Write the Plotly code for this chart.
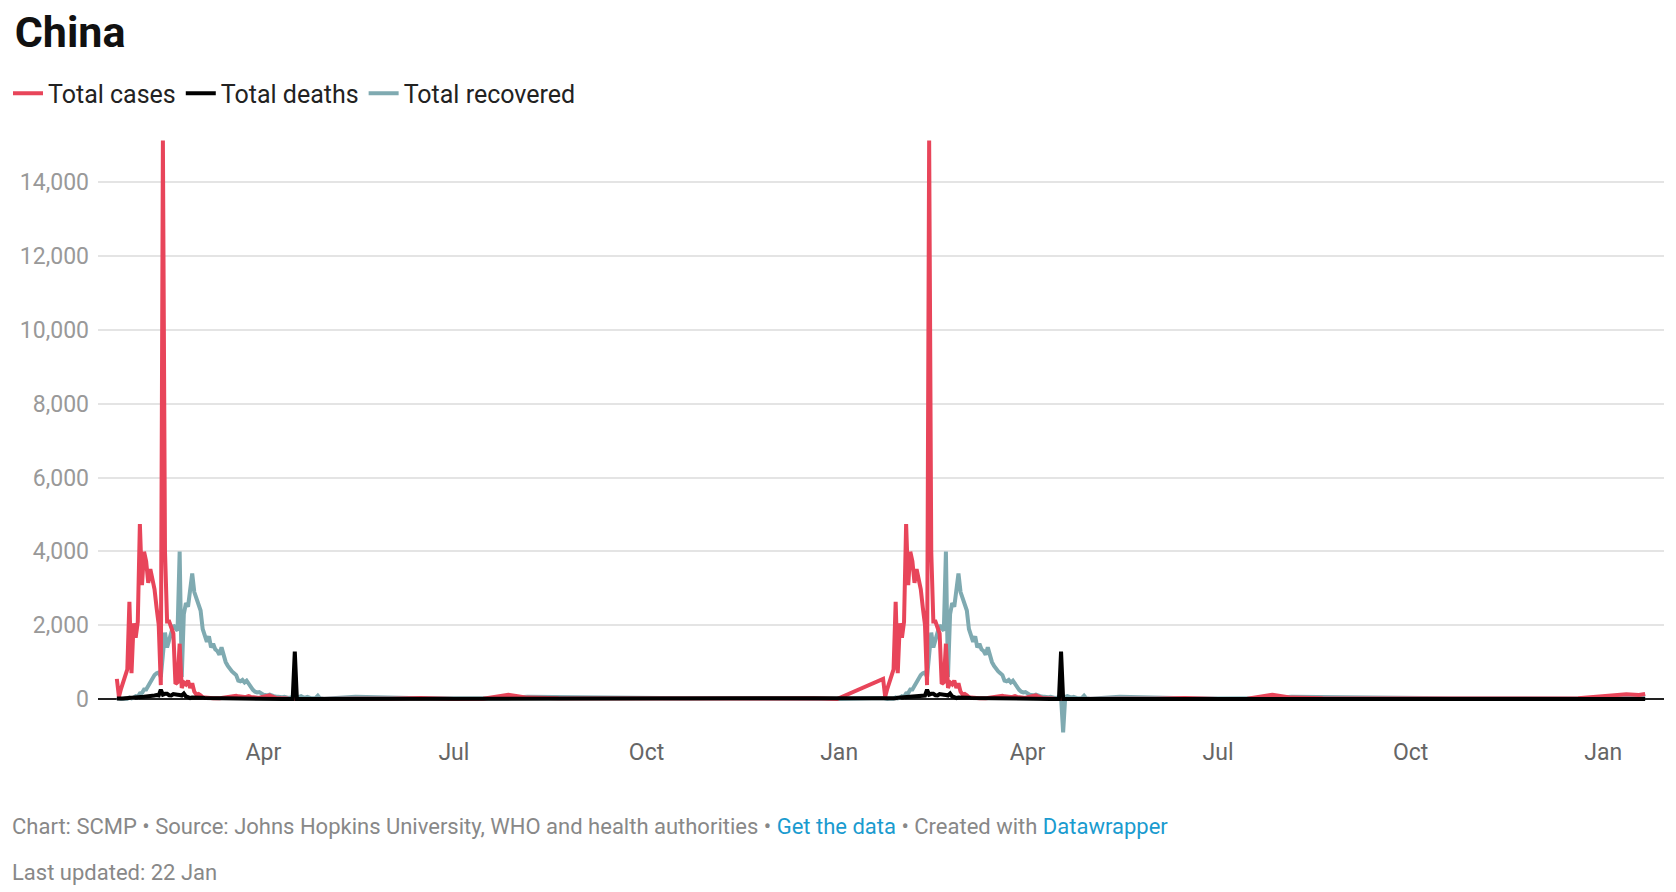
import pandas as pd
import plotly.graph_objects as go

# Daily values, 22 Jan - 30 Apr (repeated pattern appears in both years)
window_cases = [548, 60, 277, 486, 669, 802, 2632, 700, 2054, 1661, 2089, 4739, 3086, 3991, 3733, 3147, 3523, 3300, 2973, 2467,
                2015, 380, 15133, 4000, 2100, 2100, 1921, 1777, 408, 458, 1500, 300, 450, 400, 500, 300, 430, 200, 120, 140,
                100, 50, 40, 30, 25, 20, 20, 25, 15, 20, 30, 40, 45, 50, 60, 70, 80, 90, 75, 60, 50, 55, 65, 80, 60, 50,
                40, 35, 30, 50, 60, 80, 90, 100, 70, 40, 30, 20, 25, 30, 20, 15, 10, 12, 10, 8, 5, 6, 10, 8, 5, 4, 3, 2, 3, 4, 3, 5, 2, 3]
window_deaths = [17, 8, 16, 15, 24, 26, 26, 38, 43, 46, 45, 57, 64, 65, 73, 73, 86, 89, 97, 108,
                 97, 254, 121, 143, 142, 105, 98, 136, 114, 118, 109, 97, 150, 71, 52, 29, 44, 47, 35, 42,
                 31, 38, 31, 30, 28, 27, 22, 17, 22, 11, 7, 13, 10, 14, 13, 11, 8, 3, 7, 6, 9, 7, 4, 6, 5, 3,
                 5, 4, 4, 6, 5, 3, 2, 3, 2, 2, 1, 2, 1, 0, 1, 1, 0, 0, 1, 1290, 0, 0, 0, 0, 0, 0, 0, 0, 0, 0, 0, 0, 0, 0]
window_recovered = [28, 6, 3, 11, 2, 9, 43, 21, 36, 79, 62, 157, 162, 261, 262, 365, 467, 600, 650, 700,
                    720, 600, 1150, 1800, 1400, 1650, 1800, 2000, 1900, 1850, 4000, 600, 2300, 2600, 2500, 2900, 3400, 2900, 2750, 2600,
                    2400, 1900, 1700, 1550, 1700, 1400, 1500, 1350, 1300, 1200, 1400, 1150, 1000, 900, 800, 750, 700, 650, 500, 480,
                    520, 450, 500, 400, 300, 250, 200, 180, 190, 150, 120, 110, 100, 120, 90, 80, 70, 60, 70, 50, 60, 40,
                    30, 40, 35, 50, 40, 60, 80, 50, 40, 60, 30, 20, 25, 30, 90, 20, 15, 10]
# Differences in the 2021 copy
recovered_2021_apr17 = -900

# Sparse tails, May - Dec
tail_days = ["05-15", "06-01", "06-15", "07-01", "07-15", "07-27", "08-05", "08-20", "09-10", "10-01", "10-20",
             "11-10", "12-01", "12-20"]
tail_cases = [10, 8, 30, 5, 10, 120, 40, 20, 15, 20, 25, 20, 15, 25]
tail_deaths = [0, 0, 0, 0, 0, 1, 0, 0, 0, 0, 0, 0, 0, 0]
tail_recovered = [60, 30, 20, 15, 10, 20, 60, 50, 30, 25, 20, 25, 20, 15]
end_days = ["2022-01-05", "2022-01-12", "2022-01-18", "2022-01-21"]
end_cases = [80, 130, 110, 140]
end_deaths = [0, 0, 0, 0]
end_recovered = [40, 60, 70, 80]

def year_series(year, win, tail, rec2021=False):
    d = list(pd.date_range(f"{year}-01-22", periods=len(win), freq="D"))
    v = list(win)
    if rec2021:
        v[86] = recovered_2021_apr17
    d += [pd.Timestamp(f"{year}-{t}") for t in tail_days]
    v += list(tail)
    return d, v

def full(win, tail, end, rec2021=False):
    d1, v1 = year_series(2020, win, tail)
    d2, v2 = year_series(2021, win, tail, rec2021)
    d = d1 + [pd.Timestamp("2020-12-31")] + d2 + [pd.Timestamp(x) for x in end_days]
    v = v1 + [0] + v2 + list(end)
    return d, v

fig = go.Figure()
series = [
    ("Total cases", window_cases, tail_cases, end_cases, "#e8455a", False),
    ("Total deaths", window_deaths, tail_deaths, end_deaths, "#000000", False),
    ("Total recovered", window_recovered, tail_recovered, end_recovered, "#7faab1", True),
]
order = [2, 0, 1]
for i in order:
    name, w, t, e, c, r = series[i]
    d, v = full(w, t, e, r)
    fig.add_trace(go.Scatter(x=d, y=v, name=name, mode="lines", line=dict(color=c, width=4), legendrank=i))

fig.update_layout(
    width=1676, height=892, plot_bgcolor="white", paper_bgcolor="white",
    margin=dict(l=86, r=20, t=130, b=164),
    font=dict(family="Roboto", color="#888"),
    showlegend=True,
    legend=dict(orientation="h", x=0.0, xref="container", xanchor="left", y=0.93, yref="container", yanchor="top",
                font=dict(size=25, color="#222"), traceorder="normal", tracegroupgap=0),
    title=dict(text="<b>China</b>", x=0.004, xref="container", xanchor="left", y=0.99, yanchor="top",
               font=dict(size=43, color="#111", family="Roboto")),
)
fig.update_xaxes(range=["2020-01-13", "2022-01-30"], tickvals=["2020-04-01", "2020-07-01", "2020-10-01", "2021-01-01",
                 "2021-04-01", "2021-07-01", "2021-10-01", "2022-01-01"],
                 ticktext=["Apr", "Jul", "Oct", "Jan", "Apr", "Jul", "Oct", "Jan"],
                 showgrid=False, zeroline=False, showline=False, tickfont=dict(size=23, color="#666"), ticklen=0)
fig.update_yaxes(range=[-1000, 15200], tickvals=[0, 2000, 4000, 6000, 8000, 10000, 12000, 14000],
                 tickformat=",", showgrid=True, gridcolor="#e4e4e4", gridwidth=1.5, zeroline=True,
                 zerolinecolor="#222", zerolinewidth=2, tickfont=dict(size=23, color="#999"), ticks="", ticklabelstandoff=8)
fig.add_annotation(xref="paper", yref="paper", x=-0.056, y=-0.152, xanchor="left", yanchor="middle", showarrow=False,
                   text="Chart: SCMP • Source: Johns Hopkins University, WHO and health authorities • "
                        "<span style='color:#1a9bcf'>Get the data</span> • Created with "
                        "<span style='color:#1a9bcf'>Datawrapper</span>",
                   font=dict(size=22, color="#888"))
fig.add_annotation(xref="paper", yref="paper", x=-0.056, y=-0.228, xanchor="left", yanchor="middle", showarrow=False,
                   text="Last updated: 22 Jan", font=dict(size=22, color="#888"))
fig.write_html("out.html")
